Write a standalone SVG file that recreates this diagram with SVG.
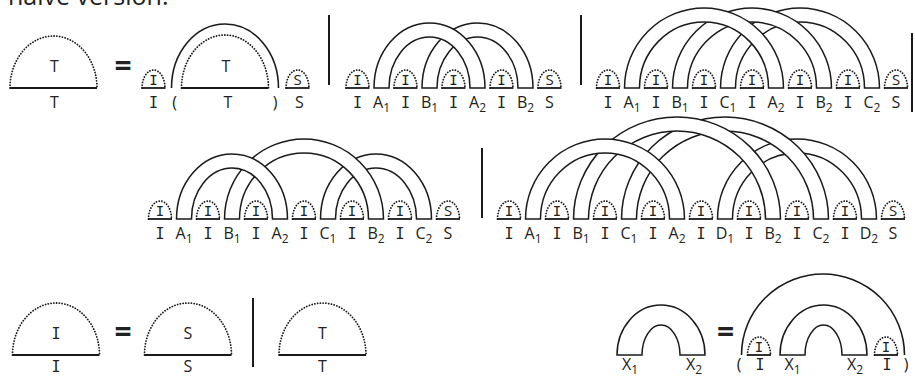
<svg xmlns="http://www.w3.org/2000/svg" width="915" height="377" viewBox="0 0 915 377">
<style>
.dot{fill:none;stroke:#1a1a1a;stroke-width:1.8;stroke-dasharray:0.1 2.7;stroke-linecap:round}
.base{stroke:#1a1a1a;stroke-width:1.8;fill:none}
.band{fill:#fff;stroke:#1a1a1a;stroke-width:1.5}
.line{fill:none;stroke:#1a1a1a;stroke-width:1.6}
.bar{stroke:#1a1a1a;stroke-width:2}
text{font-family:"Open Sans","DejaVu Sans",sans-serif;font-size:16px;fill:#222;text-anchor:middle}
text.i{font-family:"DejaVu Sans Mono",monospace;font-size:15px}
text.si{font-family:"DejaVu Sans Mono",monospace;font-size:14px}
text.ss{font-size:15px}
text.eq{font-size:30px;font-weight:bold}
tspan.sub{font-size:12px}
</style>
<defs>
<g id="smallI"><path class="dot" d="M-11.5 0 A11.5 18 0 0 1 11.5 0"/><line class="base" x1="-12" y1="0" x2="12" y2="0"/><text class="si" x="0" y="-3">I</text></g>
<g id="smallS"><path class="dot" d="M-11.5 0 A11.5 18 0 0 1 11.5 0"/><line class="base" x1="-12" y1="0" x2="12" y2="0"/><text class="ss" x="0" y="-3">S</text></g>
</defs>

<text x="8" y="5" style="font-size:25px;text-anchor:start">naive version:</text>

<!-- ===== Top-left ===== -->
<g id="domeT1"><path class="dot" d="M10 88 A43.5 52 0 0 1 97 88"/><line class="base" x1="10" y1="88" x2="97" y2="88"/><text x="54.5" y="72">T</text><text x="54.5" y="107.5">T</text></g>
<text class="eq" x="123" y="76">=</text>
<g id="tl-I"><use href="#smallI" x="153.5" y="88"/><text class="i" x="153.5" y="107.5">I</text></g>
<text x="174.5" y="107.5">(</text>
<g id="tl-arc"><path class="line" d="M171.5 88 A53.5 64 0 0 1 278.5 88"/></g>
<g id="domeT2"><path class="dot" d="M181.5 88 A43.5 53 0 0 1 268.5 88"/><line class="base" x1="181.5" y1="88" x2="268.5" y2="88"/><text x="226" y="72">T</text><text x="228" y="107.5">T</text></g>
<text x="275" y="107.5">)</text>
<g id="tl-S"><use href="#smallS" x="297.5" y="88"/><text x="299.5" y="107.5">S</text></g>
<line class="bar" x1="329" y1="15" x2="329" y2="85"/>

<!-- ===== Top-middle ===== -->
<g id="tm-arcs">
<path class="band" d="M422 88 A55.5 65 0 0 1 533 88 L518 88 A40.5 51 0 0 0 437 88 Z"/>
<path class="band" d="M374 88 A55.5 65 0 0 1 485 88 L470 88 A40.5 51 0 0 0 389 88 Z"/>
</g>
<g id="tm-nodes">
<use href="#smallI" x="357.5" y="88"/><use href="#smallI" x="405.5" y="88"/><use href="#smallI" x="453.5" y="88"/><use href="#smallI" x="501.5" y="88"/><use href="#smallS" x="549.5" y="88"/>
</g>
<g id="tm-labels">
<text class="i" x="357.5" y="107.5">I</text><text x="381.5" y="107.5">A<tspan class="sub" dy="4">1</tspan></text>
<text class="i" x="405.5" y="107.5">I</text><text x="429.5" y="107.5">B<tspan class="sub" dy="4">1</tspan></text>
<text class="i" x="453.5" y="107.5">I</text><text x="477.5" y="107.5">A<tspan class="sub" dy="4">2</tspan></text>
<text class="i" x="501.5" y="107.5">I</text><text x="525.5" y="107.5">B<tspan class="sub" dy="4">2</tspan></text>
<text x="549.5" y="107.5">S</text>
</g>
<line class="bar" x1="581" y1="15" x2="581" y2="85"/>

<!-- ===== Top-right ===== -->
<g id="tr-arcs">
<path class="band" d="M720.5 88 A79.5 80 0 0 1 879.5 88 L864.5 88 A64.5 66 0 0 0 735.5 88 Z"/>
<path class="band" d="M672.5 88 A79.5 80 0 0 1 831.5 88 L816.5 88 A64.5 66 0 0 0 687.5 88 Z"/>
<path class="band" d="M624.5 88 A79.5 80 0 0 1 783.5 88 L768.5 88 A64.5 66 0 0 0 639.5 88 Z"/>
</g>
<g id="tr-nodes">
<use href="#smallI" x="608" y="88"/><use href="#smallI" x="656" y="88"/><use href="#smallI" x="704" y="88"/><use href="#smallI" x="752" y="88"/><use href="#smallI" x="800" y="88"/><use href="#smallI" x="848" y="88"/><use href="#smallS" x="896" y="88"/>
</g>
<g id="tr-labels">
<text class="i" x="608" y="107.5">I</text><text x="632" y="107.5">A<tspan class="sub" dy="4">1</tspan></text>
<text class="i" x="656" y="107.5">I</text><text x="680" y="107.5">B<tspan class="sub" dy="4">1</tspan></text>
<text class="i" x="704" y="107.5">I</text><text x="728" y="107.5">C<tspan class="sub" dy="4">1</tspan></text>
<text class="i" x="752" y="107.5">I</text><text x="776" y="107.5">A<tspan class="sub" dy="4">2</tspan></text>
<text class="i" x="800" y="107.5">I</text><text x="824" y="107.5">B<tspan class="sub" dy="4">2</tspan></text>
<text class="i" x="848" y="107.5">I</text><text x="872" y="107.5">C<tspan class="sub" dy="4">2</tspan></text>
<text x="896" y="107.5">S</text>
</g>
<line class="bar" x1="912" y1="33" x2="912" y2="112"/>

<!-- ===== Middle-left ===== -->
<g id="ml-arcs">
<path class="band" d="M320.5 219 A55.5 65 0 0 1 431.5 219 L416.5 219 A40.5 51 0 0 0 335.5 219 Z"/>
<path class="band" d="M224.5 219 A79.5 80 0 0 1 383.5 219 L368.5 219 A64.5 66 0 0 0 239.5 219 Z"/>
<path class="band" d="M176.5 219 A55.5 65 0 0 1 287.5 219 L272.5 219 A40.5 51 0 0 0 191.5 219 Z"/>
</g>
<g id="ml-nodes">
<use href="#smallI" x="160" y="219"/><use href="#smallI" x="208" y="219"/><use href="#smallI" x="256" y="219"/><use href="#smallI" x="304" y="219"/><use href="#smallI" x="352" y="219"/><use href="#smallI" x="400" y="219"/><use href="#smallS" x="448" y="219"/>
</g>
<g id="ml-labels">
<text class="i" x="160" y="239">I</text><text x="184" y="239">A<tspan class="sub" dy="4">1</tspan></text>
<text class="i" x="208" y="239">I</text><text x="232" y="239">B<tspan class="sub" dy="4">1</tspan></text>
<text class="i" x="256" y="239">I</text><text x="280" y="239">A<tspan class="sub" dy="4">2</tspan></text>
<text class="i" x="304" y="239">I</text><text x="328" y="239">C<tspan class="sub" dy="4">1</tspan></text>
<text class="i" x="352" y="239">I</text><text x="376" y="239">B<tspan class="sub" dy="4">2</tspan></text>
<text class="i" x="400" y="239">I</text><text x="424" y="239">C<tspan class="sub" dy="4">2</tspan></text>
<text x="448" y="239">S</text>
</g>
<line class="bar" x1="482" y1="148" x2="482" y2="218"/>

<!-- ===== Middle-right ===== -->
<g id="mr-arcs">
<path class="band" d="M717.5 219 A79.5 80 0 0 1 876.5 219 L861.5 219 A64.5 66 0 0 0 732.5 219 Z"/>
<path class="band" d="M621.5 219 A103.5 102 0 0 1 828.5 219 L813.5 219 A88.5 88 0 0 0 636.5 219 Z"/>
<path class="band" d="M573.5 219 A103.5 102 0 0 1 780.5 219 L765.5 219 A88.5 88 0 0 0 588.5 219 Z"/>
<path class="band" d="M525.5 219 A79.5 80 0 0 1 684.5 219 L669.5 219 A64.5 66 0 0 0 540.5 219 Z"/>
</g>
<g id="mr-nodes">
<use href="#smallI" x="509" y="219"/><use href="#smallI" x="557" y="219"/><use href="#smallI" x="605" y="219"/><use href="#smallI" x="653" y="219"/><use href="#smallI" x="701" y="219"/><use href="#smallI" x="749" y="219"/><use href="#smallI" x="797" y="219"/><use href="#smallI" x="845" y="219"/><use href="#smallS" x="893" y="219"/>
</g>
<g id="mr-labels">
<text class="i" x="509" y="239">I</text><text x="533" y="239">A<tspan class="sub" dy="4">1</tspan></text>
<text class="i" x="557" y="239">I</text><text x="581" y="239">B<tspan class="sub" dy="4">1</tspan></text>
<text class="i" x="605" y="239">I</text><text x="629" y="239">C<tspan class="sub" dy="4">1</tspan></text>
<text class="i" x="653" y="239">I</text><text x="677" y="239">A<tspan class="sub" dy="4">2</tspan></text>
<text class="i" x="701" y="239">I</text><text x="725" y="239">D<tspan class="sub" dy="4">1</tspan></text>
<text class="i" x="749" y="239">I</text><text x="773" y="239">B<tspan class="sub" dy="4">2</tspan></text>
<text class="i" x="797" y="239">I</text><text x="821" y="239">C<tspan class="sub" dy="4">2</tspan></text>
<text class="i" x="845" y="239">I</text><text x="869" y="239">D<tspan class="sub" dy="4">2</tspan></text>
<text x="893" y="239">S</text>
</g>

<!-- ===== Bottom-left ===== -->
<g id="domeI"><path class="dot" d="M12.5 355 A43.5 52 0 0 1 99.5 355"/><line class="base" x1="12.5" y1="355" x2="99.5" y2="355"/><text class="i" x="56" y="339">I</text><text class="i" x="56" y="372">I</text></g>
<text class="eq" x="123" y="342">=</text>
<g id="domeS"><path class="dot" d="M144.5 355 A43.5 52 0 0 1 231.5 355"/><line class="base" x1="144.5" y1="355" x2="231.5" y2="355"/><text x="188" y="339">S</text><text x="188" y="372">S</text></g>
<line class="bar" x1="253" y1="298" x2="253" y2="367"/>
<g id="domeT3"><path class="dot" d="M279 355 A43.5 52 0 0 1 366 355"/><line class="base" x1="279" y1="355" x2="366" y2="355"/><text x="322.5" y="339">T</text><text x="322.5" y="372">T</text></g>

<!-- ===== Bottom-right ===== -->
<g id="archX1"><path class="band" d="M617 355 A44 50 0 0 1 705 355 L680 355 A19 30 0 0 0 642 355 Z"/></g>
<text x="630" y="370">X<tspan class="sub" dy="4">1</tspan></text>
<text x="694" y="370">X<tspan class="sub" dy="4">2</tspan></text>
<text class="eq" x="725.5" y="342">=</text>
<g id="br-arc"><path class="line" d="M741.5 355 A81.5 81 0 0 1 904.5 355"/></g>
<g id="br-I1"><use href="#smallI" x="759" y="355"/></g>
<g id="archX2"><path class="band" d="M780 355 A43.5 50 0 0 1 867 355 L842 355 A18.5 30 0 0 0 805 355 Z"/></g>
<g id="br-I2"><use href="#smallI" x="886" y="355"/></g>
<text x="739" y="370">(</text>
<text class="i" x="760" y="370">I</text>
<text x="792.5" y="370">X<tspan class="sub" dy="4">1</tspan></text>
<text x="855" y="370">X<tspan class="sub" dy="4">2</tspan></text>
<text class="i" x="887" y="370">I</text>
<text x="906" y="370">)</text>
</svg>
